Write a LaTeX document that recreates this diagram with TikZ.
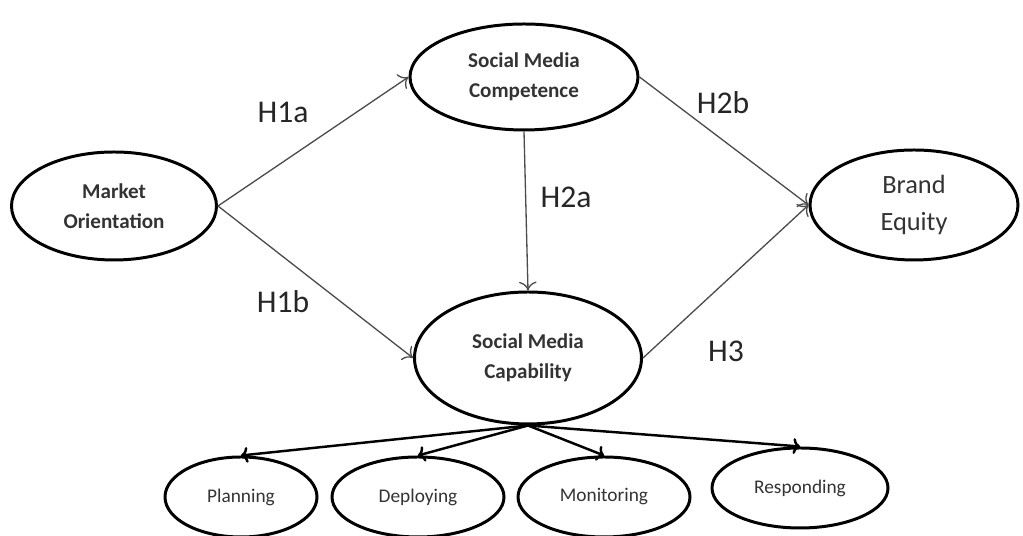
\documentclass[tikz,border=0pt]{standalone}
\usepackage{fontspec}
\setmainfont{Carlito}
\usetikzlibrary{positioning,shapes.geometric,arrows.meta}
\tikzset{main node/.style={ellipse,draw,line width=1.7pt,inner sep=0pt,align=center,text=black!80},
	big node/.style={main node,font=\fontsize{12}{17}\selectfont\bfseries},
	dim node/.style={main node,minimum width=3.44cm,minimum height=1.6cm,font=\fontsize{11}{13}\selectfont},
	hyp/.style={font=\fontsize{18}{20}\selectfont,text=black!85},
	up arrow/.style={draw,-{To[length=5pt,width=10pt]},line width=0.75pt,black!70},
	down arrow/.style={draw,-{To[length=4pt,width=9pt]},line width=1.4pt,black},
}

\begin{document}
\begin{tikzpicture}
	\useasboundingbox (0,0) rectangle (20.46,10.72);
	\node[big node,minimum width=4.1cm,minimum height=2.16cm] (mo) at (2.28,6.60){Market\\Orientation};
	\node[big node,minimum width=4.56cm,minimum height=2.12cm] (smc) at (10.48,9.18){Social Media\\Competence};
	\node[big node,minimum width=4.54cm,minimum height=2.64cm] (smcap) at (10.56,3.56){Social Media\\Capability};
	\node[main node,minimum width=4.16cm,minimum height=2.2cm,font=\fontsize{15}{21.6}\selectfont] (be) at (18.28,6.62){Brand\\Equity};
	\node[dim node,minimum width=3.04cm] (plan) at (4.82,0.78){Planning};
	\node[dim node] (dep) at (8.36,0.78){Deploying};
	\node[dim node] (mon) at (12.08,0.78){Monitoring};
	\node[dim node,minimum width=3.52cm] (resp) at (16.0,0.96){Responding};
	
	\node[hyp] (h1a) at (5.66,8.48){H1a};
	\node[hyp] (h1b) at (5.66,4.68){H1b};
	\node[hyp] (h2a) at (11.32,6.78){H2a};
	\node[hyp] (h2b) at (14.46,8.66){H2b};
	\node[hyp] (h3) at (14.52,3.70){H3};
	
	\path
	(mo.east) edge[up arrow] (smc.west)
	(mo.east) edge[up arrow] (smcap.west)
	(smc.south) edge[up arrow] (smcap.north)
	(smc.east) edge[up arrow] (be.west)
	(smcap.east) edge[up arrow] (be.west);
	
	\path
	(smcap.south) edge[down arrow] (plan.north)
	(smcap.south) edge[down arrow] (dep.north)
	(smcap.south) edge[down arrow] (mon.north)
	(smcap.south) edge[down arrow] (resp.north);
\end{tikzpicture}
\end{document}
